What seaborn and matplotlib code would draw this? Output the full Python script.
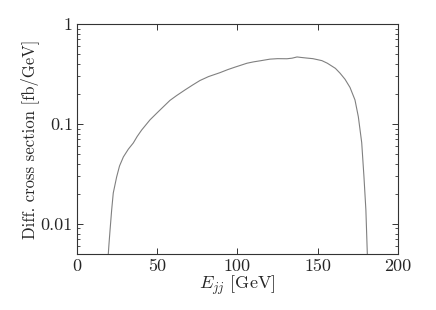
import matplotlib
matplotlib.use("Agg")
import matplotlib.pyplot as plt
import matplotlib.ticker as mticker
import seaborn as sns

# values
energy = [19.5, 19.9, 20.6, 21.6, 22.6, 24.7, 26.5, 28.9, 32.0, 35.1, 37.5,
          40.3, 45.5, 50.5, 57.9, 62.0, 67.3, 72.0, 76.6, 82.0, 89.1, 94.0,
          98.4, 105.9, 110.0, 114.0, 120.2, 125.0, 130.8, 134.0, 137.1, 140.0,
          143.3, 147.0, 152.6, 156.0, 161.0, 163.9, 167.0, 170.1, 173.2,
          175.3, 177.4, 178.8, 180.0, 180.9]
xsec = [0.005, 0.0062, 0.0087, 0.0138, 0.0204, 0.0295, 0.038, 0.0468, 0.056,
        0.0646, 0.075, 0.087, 0.11, 0.132, 0.172, 0.192, 0.219, 0.245, 0.272,
        0.298, 0.326, 0.35, 0.37, 0.405, 0.418, 0.428, 0.445, 0.45, 0.449,
        0.455, 0.468, 0.462, 0.456, 0.45, 0.43, 0.405, 0.36, 0.322, 0.28,
        0.232, 0.174, 0.118, 0.065, 0.0296, 0.0138, 0.005]

sns.set_style("ticks")
plt.rcParams["font.family"] = "serif"
plt.rcParams["font.serif"] = ["cmr10", "DejaVu Serif"]
plt.rcParams["mathtext.fontset"] = "cm"
plt.rcParams["axes.formatter.use_mathtext"] = True

fig = plt.figure(figsize=(4.36, 3.10), dpi=100)
ax = fig.add_axes([0.1766, 0.1806, 0.7362, 0.742])

sns.lineplot(x=energy, y=xsec, ax=ax, color="#808080", linewidth=0.8)

ax.set_yscale("log")
ax.set_xlim(0, 200)
ax.set_ylim(0.005, 1)
ax.set_xticks([0, 50, 100, 150, 200])
ax.set_xticklabels(["0", "50", "100", "150", "200"])
ax.yaxis.set_major_locator(mticker.FixedLocator([0.01, 0.1, 1]))
ax.yaxis.set_major_formatter(mticker.FixedFormatter(["0.01", "0.1", "1"]))
ax.yaxis.set_minor_locator(mticker.LogLocator(base=10, subs=range(2, 10)))
ax.yaxis.set_minor_formatter(mticker.NullFormatter())

ax.tick_params(which="both", direction="in", top=True, right=True,
               color="#333333", labelsize=13, pad=3)
ax.tick_params(which="major", length=4, width=0.7)
ax.tick_params(which="minor", length=2, width=0.6)
for s in ax.spines.values():
    s.set_color("#333333")
    s.set_linewidth(0.8)

ax.set_xlabel(r"$E_{jj}$ [GeV]", fontsize=13, labelpad=0)
ax.set_ylabel("Diff. cross section [fb/GeV]", fontsize=12, labelpad=1)

fig.savefig("out.png", dpi=100)
